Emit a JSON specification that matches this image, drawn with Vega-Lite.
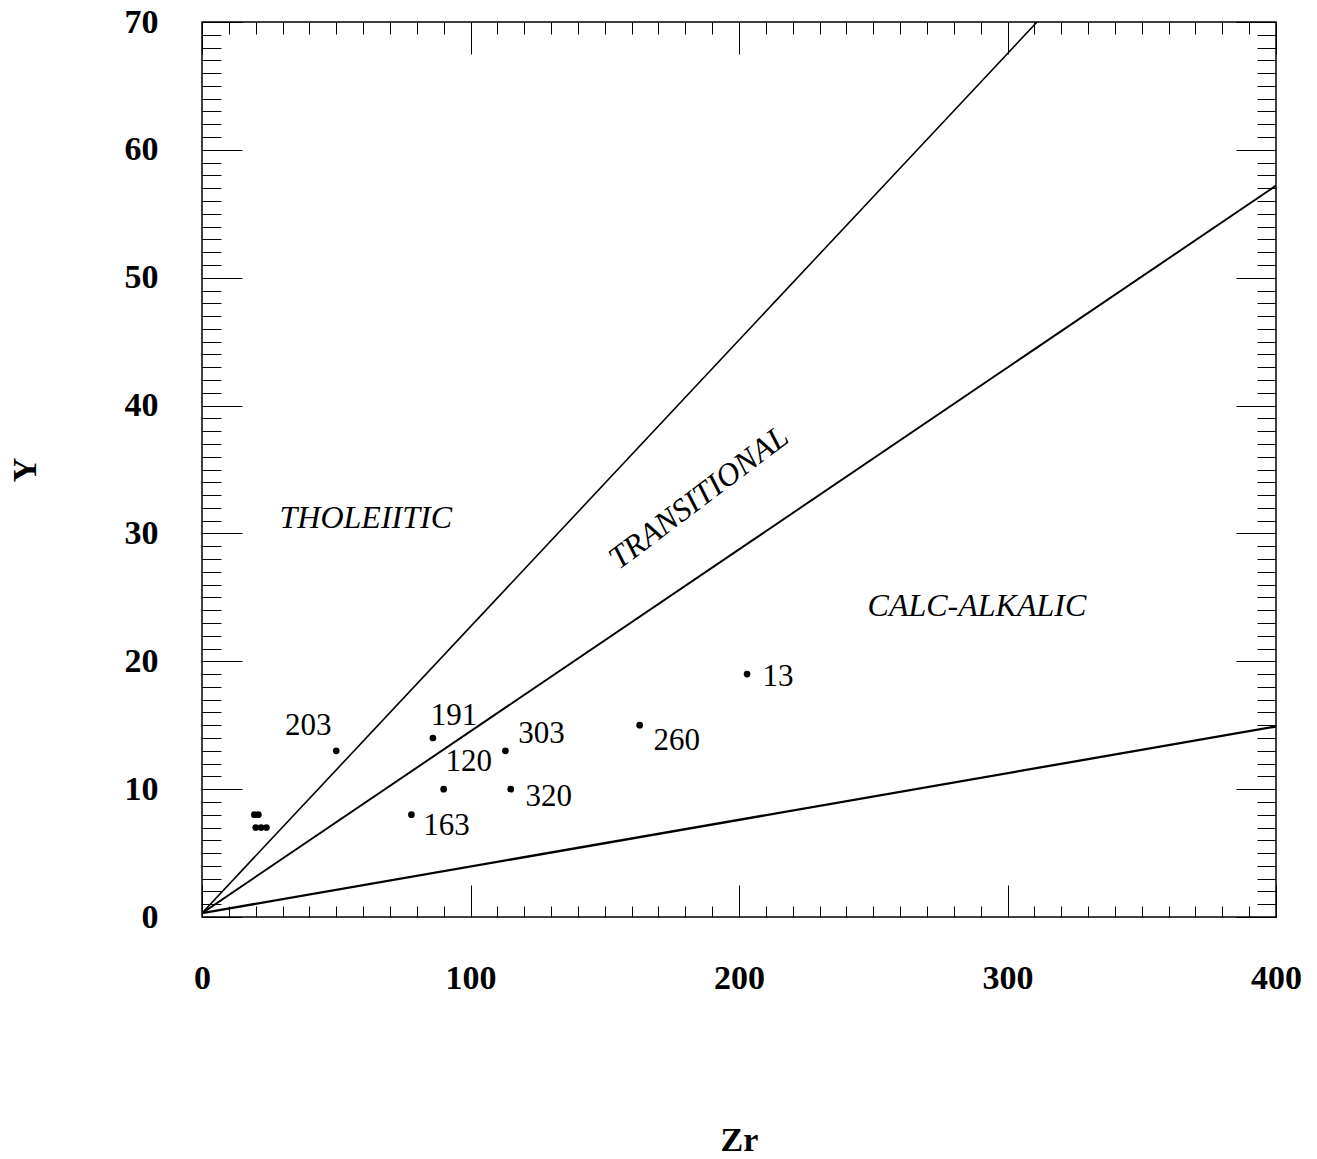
{
  "$schema": "https://vega.github.io/schema/vega-lite/v6.json",
  "width": 1074,
  "height": 895,
  "autosize": {"type": "none"},
  "padding": {"left": 202, "top": 22, "right": 41, "bottom": 242},
  "background": "white",
  "config": {
    "view": {"stroke": "black", "strokeWidth": 1.5},
    "font": "Liberation Serif",
    "axis": {
      "domain": false,
      "grid": false,
      "tickColor": "black",
      "tickWidth": 1,
      "labelFont": "Liberation Serif",
      "labelFontWeight": "bold",
      "labelFontSize": 34,
      "labelColor": "black",
      "titleFont": "Liberation Serif",
      "titleFontWeight": "bold",
      "titleFontSize": 34,
      "titleColor": "black",
      "labelOverlap": false,
      "labelFlush": false
    }
  },
  "datasets": {
    "bounds": [
      {"line": "a", "Zr": 0, "Y": 0.3},
      {"line": "a", "Zr": 311, "Y": 70},
      {"line": "b", "Zr": 0, "Y": 0.3},
      {"line": "b", "Zr": 400, "Y": 57.2},
      {"line": "c", "Zr": 0, "Y": 0.3},
      {"line": "c", "Zr": 400, "Y": 14.9}
    ],
    "samples": [
      {"Zr": 50, "Y": 13, "label": "203"},
      {"Zr": 86, "Y": 14, "label": "191"},
      {"Zr": 113, "Y": 13, "label": "303"},
      {"Zr": 90, "Y": 10, "label": "120"},
      {"Zr": 115, "Y": 10, "label": "320"},
      {"Zr": 78, "Y": 8, "label": "163"},
      {"Zr": 163, "Y": 15, "label": "260"},
      {"Zr": 203, "Y": 19, "label": "13"},
      {"Zr": 19.5, "Y": 8, "label": ""},
      {"Zr": 21, "Y": 8, "label": ""},
      {"Zr": 20, "Y": 7, "label": ""},
      {"Zr": 22, "Y": 7, "label": ""},
      {"Zr": 24, "Y": 7, "label": ""}
    ],
    "regions": [
      {"Zr": 61, "Y": 31.2, "name": "THOLEIITIC", "kind": "flat"},
      {"Zr": 288.6, "Y": 24.3, "name": "CALC-ALKALIC", "kind": "flat"},
      {"Zr": 185, "Y": 32.8, "name": "TRANSITIONAL", "kind": "tilted"}
    ]
  },
  "resolve": {"axis": {"x": "independent", "y": "independent"}},
  "layer": [
    {
      "data": {"name": "bounds"},
      "mark": {"type": "line", "color": "black", "clip": true},
      "encoding": {
        "x": {
          "field": "Zr", "type": "quantitative",
          "scale": {"domain": [0, 400], "nice": false, "zero": false},
          "axis": {
            "orient": "bottom",
            "title": "Zr",
            "titleX": 537, "titleY": 223, "titleBaseline": "middle", "titleAlign": "center",
            "values": [0,10,20,30,40,50,60,70,80,90,100,110,120,130,140,150,160,170,180,190,200,210,220,230,240,250,260,270,280,290,300,310,320,330,340,350,360,370,380,390,400],
            "labelExpr": "datum.value % 100 === 0 ? datum.label : ''",
            "tickSize": {"condition": {"test": "datum.value % 100 === 0", "value": -32}, "value": -11},
            "labelPadding": 76
          }
        },
        "y": {
          "field": "Y", "type": "quantitative",
          "scale": {"domain": [0, 70], "nice": false, "zero": false},
          "axis": {
            "orient": "left",
            "title": "Y",
            "titleX": -177, "titleY": 447.5, "titleBaseline": "middle", "titleAlign": "center", "titleAngle": -90,
            "values": [0,1,2,3,4,5,6,7,8,9,10,11,12,13,14,15,16,17,18,19,20,21,22,23,24,25,26,27,28,29,30,31,32,33,34,35,36,37,38,39,40,41,42,43,44,45,46,47,48,49,50,51,52,53,54,55,56,57,58,59,60,61,62,63,64,65,66,67,68,69,70],
            "labelExpr": "datum.value % 10 === 0 ? datum.label : ''",
            "tickSize": {"condition": {"test": "datum.value % 10 === 0", "value": -40}, "value": -19},
            "labelPadding": 84
          }
        },
        "detail": {"field": "line", "type": "nominal"},
        "strokeWidth": {"field": "line", "type": "nominal", "scale": {"domain": ["a", "b", "c"], "range": [1.6, 2.3, 3]}, "legend": null}
      }
    },
    {
      "data": {"name": "samples"},
      "mark": {"type": "circle", "color": "black", "opacity": 1, "size": 45},
      "encoding": {
        "x": {
          "field": "Zr", "type": "quantitative",
          "scale": {"domain": [0, 400], "nice": false, "zero": false},
          "axis": {
            "orient": "top", "title": null, "labels": false,
            "values": [0,10,20,30,40,50,60,70,80,90,100,110,120,130,140,150,160,170,180,190,200,210,220,230,240,250,260,270,280,290,300,310,320,330,340,350,360,370,380,390,400],
            "tickSize": {"condition": {"test": "datum.value % 100 === 0", "value": -32}, "value": -12}
          }
        },
        "y": {
          "field": "Y", "type": "quantitative",
          "scale": {"domain": [0, 70], "nice": false, "zero": false},
          "axis": {
            "orient": "right", "title": null, "labels": false,
            "values": [0,1,2,3,4,5,6,7,8,9,10,11,12,13,14,15,16,17,18,19,20,21,22,23,24,25,26,27,28,29,30,31,32,33,34,35,36,37,38,39,40,41,42,43,44,45,46,47,48,49,50,51,52,53,54,55,56,57,58,59,60,61,62,63,64,65,66,67,68,69,70],
            "tickSize": {"condition": {"test": "datum.value % 10 === 0", "value": -40}, "value": -19}
          }
        }
      }
    },
    {
      "data": {"name": "samples"},
      "transform": [{"filter": "datum.label === '203'"}],
      "mark": {"type": "text", "font": "Liberation Serif", "fontSize": 31, "color": "black", "align": "center", "baseline": "middle", "dx": -28, "dy": -25},
      "encoding": {
        "x": {"field": "Zr", "type": "quantitative", "axis": null},
        "y": {"field": "Y", "type": "quantitative", "axis": null},
        "text": {"field": "label"}
      }
    },
    {
      "data": {"name": "samples"},
      "transform": [{"filter": "datum.label === '191'"}],
      "mark": {"type": "text", "font": "Liberation Serif", "fontSize": 31, "color": "black", "align": "center", "baseline": "middle", "dx": 21, "dy": -22},
      "encoding": {
        "x": {"field": "Zr", "type": "quantitative", "axis": null},
        "y": {"field": "Y", "type": "quantitative", "axis": null},
        "text": {"field": "label"}
      }
    },
    {
      "data": {"name": "samples"},
      "transform": [{"filter": "datum.label === '303'"}],
      "mark": {"type": "text", "font": "Liberation Serif", "fontSize": 31, "color": "black", "align": "center", "baseline": "middle", "dx": 36, "dy": -17},
      "encoding": {
        "x": {"field": "Zr", "type": "quantitative", "axis": null},
        "y": {"field": "Y", "type": "quantitative", "axis": null},
        "text": {"field": "label"}
      }
    },
    {
      "data": {"name": "samples"},
      "transform": [{"filter": "datum.label === '120'"}],
      "mark": {"type": "text", "font": "Liberation Serif", "fontSize": 31, "color": "black", "align": "center", "baseline": "middle", "dx": 25, "dy": -27},
      "encoding": {
        "x": {"field": "Zr", "type": "quantitative", "axis": null},
        "y": {"field": "Y", "type": "quantitative", "axis": null},
        "text": {"field": "label"}
      }
    },
    {
      "data": {"name": "samples"},
      "transform": [{"filter": "datum.label === '320'"}],
      "mark": {"type": "text", "font": "Liberation Serif", "fontSize": 31, "color": "black", "align": "center", "baseline": "middle", "dx": 38, "dy": 8},
      "encoding": {
        "x": {"field": "Zr", "type": "quantitative", "axis": null},
        "y": {"field": "Y", "type": "quantitative", "axis": null},
        "text": {"field": "label"}
      }
    },
    {
      "data": {"name": "samples"},
      "transform": [{"filter": "datum.label === '163'"}],
      "mark": {"type": "text", "font": "Liberation Serif", "fontSize": 31, "color": "black", "align": "center", "baseline": "middle", "dx": 35, "dy": 11},
      "encoding": {
        "x": {"field": "Zr", "type": "quantitative", "axis": null},
        "y": {"field": "Y", "type": "quantitative", "axis": null},
        "text": {"field": "label"}
      }
    },
    {
      "data": {"name": "samples"},
      "transform": [{"filter": "datum.label === '260'"}],
      "mark": {"type": "text", "font": "Liberation Serif", "fontSize": 31, "color": "black", "align": "center", "baseline": "middle", "dx": 37, "dy": 16},
      "encoding": {
        "x": {"field": "Zr", "type": "quantitative", "axis": null},
        "y": {"field": "Y", "type": "quantitative", "axis": null},
        "text": {"field": "label"}
      }
    },
    {
      "data": {"name": "samples"},
      "transform": [{"filter": "datum.label === '13'"}],
      "mark": {"type": "text", "font": "Liberation Serif", "fontSize": 31, "color": "black", "align": "center", "baseline": "middle", "dx": 31, "dy": 3},
      "encoding": {
        "x": {"field": "Zr", "type": "quantitative", "axis": null},
        "y": {"field": "Y", "type": "quantitative", "axis": null},
        "text": {"field": "label"}
      }
    },
    {
      "data": {"name": "regions"},
      "transform": [{"filter": "datum.kind === 'flat'"}],
      "mark": {"type": "text", "font": "Liberation Serif", "fontSize": 32, "fontStyle": "italic", "color": "black", "align": "center", "baseline": "middle"},
      "encoding": {
        "x": {"field": "Zr", "type": "quantitative", "axis": null},
        "y": {"field": "Y", "type": "quantitative", "axis": null},
        "text": {"field": "name"}
      }
    },
    {
      "data": {"name": "regions"},
      "transform": [{"filter": "datum.kind === 'tilted'"}],
      "mark": {"type": "text", "font": "Liberation Serif", "fontSize": 32, "fontStyle": "italic", "color": "black", "align": "center", "baseline": "middle", "angle": -37},
      "encoding": {
        "x": {"field": "Zr", "type": "quantitative", "axis": null},
        "y": {"field": "Y", "type": "quantitative", "axis": null},
        "text": {"field": "name"}
      }
    }
  ]
}
